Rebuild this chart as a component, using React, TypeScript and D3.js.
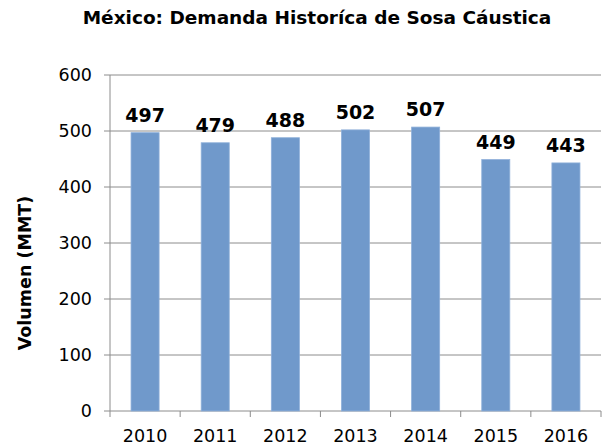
import React from 'react';
import * as d3 from 'd3';

const title = 'México: Demanda Historíca de Sosa Cáustica';
const yLabel = 'Volumen (MMT)';
const years = ['2010', '2011', '2012', '2013', '2014', '2015', '2016'];
const demand = [497, 479, 488, 502, 507, 449, 443];
const yTicks = [0, 100, 200, 300, 400, 500, 600];

const W = 606;
const H = 448;
const margin = { top: 75, right: 5, bottom: 37, left: 110 };
const font = 'Verdana, "DejaVu Sans", sans-serif';

const App: React.FC = () => {
  const innerW = W - margin.left - margin.right;
  const innerH = H - margin.top - margin.bottom;

  const x = d3
    .scaleBand<string>()
    .domain(years)
    .range([0, innerW])
    .paddingInner(0.6)
    .paddingOuter(0.3);

  const y = d3.scaleLinear().domain([0, 600]).range([innerH, 0]);

  const step = x.step();
  const boundaries = d3.range(years.length + 1).map((i) => i * step);

  return (
    <svg width={W} height={H} style={{ position: 'absolute', left: 0, top: 0, background: '#fff' }}>
      <text
        x={317}
        y={23.5}
        textAnchor="middle"
        fontFamily={font}
        fontWeight="bold"
        fontSize={18.5}
        fill="#000"
      >
        {title}
      </text>

      <text
        transform="translate(31,273) rotate(-90)"
        textAnchor="middle"
        fontFamily={font}
        fontWeight="bold"
        fontSize={17.5}
        fill="#000"
      >
        {yLabel}
      </text>

      <g transform={`translate(${margin.left},${margin.top})`}>
        {/* gridlines + y ticks */}
        {yTicks.map((t) => (
          <g key={t} transform={`translate(0,${y(t)})`}>
            <line x1={-6} x2={innerW} stroke="#8c8c8c" strokeWidth={1} />
            <text
              x={-18}
              dy="0.36em"
              textAnchor="end"
              fontFamily={font}
              fontSize={17.5}
              fill="#000"
            >
              {t}
            </text>
          </g>
        ))}

        {/* y axis line */}
        <line x1={0} x2={0} y1={0} y2={innerH} stroke="#8c8c8c" strokeWidth={1} />

        {/* x tick marks */}
        {boundaries.map((b, i) => (
          <line key={i} x1={b} x2={b} y1={innerH} y2={innerH + 6} stroke="#8c8c8c" strokeWidth={1} />
        ))}

        {/* bars */}
        {years.map((yr, i) => (
          <rect
            key={yr}
            x={x(yr)}
            y={y(demand[i])}
            width={x.bandwidth()}
            height={innerH - y(demand[i])}
            fill="#7099cb"
            stroke="#8fb0da"
            strokeWidth={0.8}
          />
        ))}

        {/* value labels */}
        {years.map((yr, i) => (
          <text
            key={yr}
            x={(x(yr) ?? 0) + x.bandwidth() / 2}
            y={y(demand[i]) - 11}
            textAnchor="middle"
            fontFamily={font}
            fontWeight="bold"
            fontSize={19}
            fill="#000"
          >
            {demand[i]}
          </text>
        ))}

        {/* x labels */}
        {years.map((yr) => (
          <text
            key={yr}
            x={(x(yr) ?? 0) + x.bandwidth() / 2}
            y={innerH + 31}
            textAnchor="middle"
            fontFamily={font}
            fontSize={17.5}
            fill="#000"
          >
            {yr}
          </text>
        ))}
      </g>
    </svg>
  );
};

export default App;
